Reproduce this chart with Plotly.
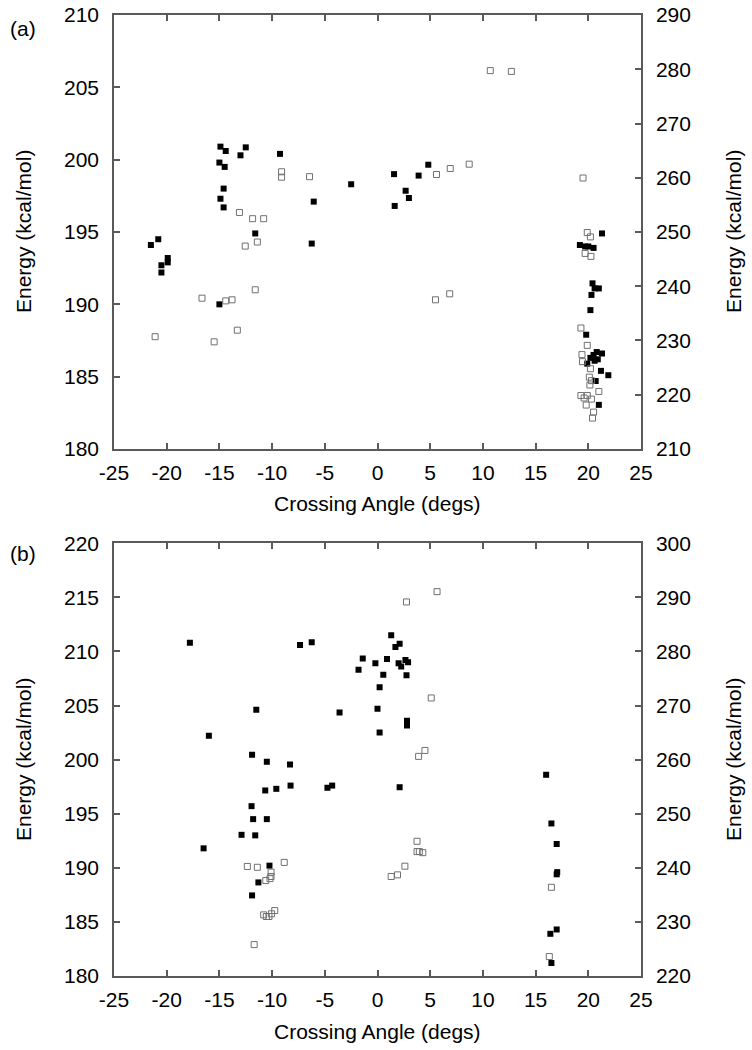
import plotly.graph_objects as go

# panel (a): filled = left axis, open = right axis
a_fill_x = [-21.5, -20.8, -20.5, -19.9, -19.9, -20.5, -15.0,
            -14.9, -14.4, -15.0, -14.5, -14.6, -14.9, -14.6,
            -13.0, -12.5, -9.25, -11.6, -6.05, -6.24, -2.5,
            1.57, 1.63, 2.67, 2.98, 3.9, 4.82,
            21.3, 19.2, 19.7, 20.0, 20.5,
            20.4, 20.6, 21.0, 20.3, 20.2, 19.8,
            20.8, 21.3, 20.5, 20.2, 20.9, 20.6, 19.9, 21.2, 21.9, 20.7, 21.0]
a_fill_y = [194.1, 194.5, 192.7, 193.2, 192.9, 192.2, 190.0,
            200.9, 200.6, 199.8, 199.5, 198.0, 197.3, 196.7,
            200.3, 200.85, 200.4, 194.9, 197.1, 194.2, 198.3,
            199.0, 196.8, 197.85, 197.35, 198.9, 199.65,
            194.9, 194.1, 194.0, 194.0, 193.9,
            191.45, 191.1, 191.1, 190.65, 189.6, 187.9,
            186.7, 186.6, 186.5, 186.3, 186.2, 186.1, 185.9, 185.4, 185.1, 184.7, 183.05]

a_open_x = [-9.1, -9.1, -6.45, -13.1, -11.85, -10.8, -12.55, -11.4,
            -21.1, -16.65, -14.4, -13.8, -11.6, -15.5, -13.3,
            10.7, 12.7, 5.6, 6.9, 8.7, 19.5, 5.5, 6.85,
            19.9, 20.2, 19.7, 20.25,
            19.3, 19.9, 19.4, 19.45, 20.2, 20.1, 20.3, 20.15, 21.0,
            19.3, 19.9, 19.6, 20.3, 19.8, 20.5, 20.4]
a_open_y = [261.1, 260.1, 260.2, 253.6, 252.45, 252.45, 247.4, 248.15,
            230.7, 237.8, 237.3, 237.5, 239.35, 229.75, 231.9,
            279.75, 279.6, 260.6, 261.7, 262.5, 259.95, 237.5, 238.6,
            249.9, 249.1, 246.05, 245.5,
            232.3, 229.1, 227.4, 226.1, 224.8, 223.25, 222.6, 221.8, 220.6,
            219.85, 219.85, 219.4, 219.2, 218.1, 216.8, 215.7]

# panel (b)
b_fill_x = [-17.8, -7.35, -6.24, -11.5, -16.0, -3.6,
            -11.9, -10.5, -8.3,
            -10.65, -9.6, -8.25, -4.75, -4.3,
            -11.95, -11.8, -10.5, -12.9, -11.6, -16.5, -10.25, -11.3, -11.9,
            1.3, 2.1, 1.7, -1.4, 0.9, -0.2, 2.0, 2.25, 2.65, 2.9,
            -1.8, 0.55, 2.75, 0.2, 0.0, 2.8, 2.8, 0.2, 2.1,
            16.0, 16.5, 17.0, 17.05, 17.0, 16.4, 17.0, 16.5]
b_fill_y = [210.8, 210.6, 210.85, 204.6, 202.2, 204.35,
            200.45, 199.8, 199.55,
            197.15, 197.3, 197.6, 197.4, 197.6,
            195.7, 194.5, 194.5, 193.05, 193.0, 191.8, 190.2, 188.65, 187.45,
            211.5, 210.7, 210.4, 209.35, 209.3, 208.9, 208.9, 208.6, 209.2, 209.0,
            208.3, 207.85, 207.8, 206.7, 204.7, 203.6, 203.15, 202.5, 197.45,
            198.6, 194.1, 192.2, 189.6, 189.4, 183.9, 184.3, 181.2]

b_open_x = [5.65, 2.75, 5.1, 3.9, 4.5,
            3.75, 3.75, 3.97, 4.3, 2.6, 1.9, 1.3,
            16.5, 16.3,
            -12.35, -11.4, -8.85, -10.1, -10.1, -10.2, -10.6,
            -9.75, -10.05, -10.8, -10.3, -10.55, -11.7]
b_open_y = [291.05, 289.15, 271.4, 260.6, 261.7,
            244.9, 243.0, 243.0, 242.8, 240.3, 238.7, 238.4,
            236.4, 223.6,
            240.25, 240.1, 241.0, 239.2, 238.4, 238.0, 237.65,
            232.1, 231.5, 231.3, 231.0, 231.0, 225.8]

x_ticks = list(range(-25, 26, 5))
x_ticktext = [str(v) for v in x_ticks]  # plain hyphen minus, as in the original

FONT = "Liberation Sans, Arial, sans-serif"
FS = 21
AXIS = "#5a5a5a"
OPEN = "#707070"
W, H = 752, 1050
ML, MR, MT, MB = 114, 111, 15, 74

fill_marker = dict(symbol="square", size=6, color="black", line=dict(width=0))
open_marker = dict(symbol="square-open", size=6, color=OPEN, line=dict(width=1, color=OPEN))

fig = go.Figure()
fig.add_scatter(x=a_fill_x, y=a_fill_y, mode="markers", marker=fill_marker, xaxis="x", yaxis="y")
fig.add_scatter(x=a_open_x, y=a_open_y, mode="markers", marker=open_marker, xaxis="x", yaxis="y2")
fig.add_scatter(x=b_fill_x, y=b_fill_y, mode="markers", marker=fill_marker, xaxis="x2", yaxis="y3")
fig.add_scatter(x=b_open_x, y=b_open_y, mode="markers", marker=open_marker, xaxis="x2", yaxis="y4")

common = dict(showline=True, linecolor=AXIS, linewidth=1.5, ticks="inside", ticklen=6,
              tickcolor=AXIS, tickwidth=1.5, showgrid=False, zeroline=False, automargin=False,
              tickfont=dict(size=FS, color="black", family=FONT))
xcommon = dict(common, range=[-25, 25], tickvals=x_ticks, ticktext=x_ticktext, mirror="ticks",
               ticklabelstandoff=4)
yleft = dict(common, ticklabelstandoff=9)
yright = dict(common, ticklabelstandoff=9)

dom_a = [0.5484, 1.0]
dom_b = [0.0, 0.4503]

fig.update_layout(
    width=W, height=H,
    margin=dict(l=ML, r=MR, t=MT, b=MB),
    paper_bgcolor="white", plot_bgcolor="white",
    font=dict(family=FONT, size=FS, color="black"),
    showlegend=False,
    xaxis=dict(xcommon, domain=[0, 1], anchor="y"),
    yaxis=dict(yleft, domain=dom_a, anchor="x", range=[180, 210], dtick=5),
    yaxis2=dict(yright, domain=dom_a, anchor="x", overlaying="y", side="right",
                range=[210, 290], dtick=10),
    xaxis2=dict(xcommon, domain=[0, 1], anchor="y3"),
    yaxis3=dict(yleft, domain=dom_b, anchor="x2", range=[180, 220], dtick=5),
    yaxis4=dict(yright, domain=dom_b, anchor="x2", overlaying="y3", side="right",
                range=[220, 300], dtick=10),
)

# text placed in pixel terms, converted to paper coords
pw, ph = W - ML - MR, H - MT - MB


def px2paper(px, py):
    return (px - ML) / pw, (H - MB - py) / ph


texts = [
    ("(a)", 23, 28, 0),
    ("(b)", 23, 553, 0),
    ("Crossing Angle (degs)", 377, 503, 0),
    ("Crossing Angle (degs)", 377, 1031, 0),
    ("Energy (kcal/mol)", 23, 232, -90),
    ("Energy (kcal/mol)", 733, 232, -90),
    ("Energy (kcal/mol)", 23, 760, -90),
    ("Energy (kcal/mol)", 733, 760, -90),
]
for label, px, py, ang in texts:
    x, y = px2paper(px, py)
    fig.add_annotation(text=label, x=x, y=y, xref="paper", yref="paper",
                       xanchor="center", yanchor="middle", textangle=ang,
                       showarrow=False, font=dict(size=FS, family=FONT, color="black"))

# drop the browser's default 8px body margin so the figure sits at the page origin
fig.write_html("out.html", config={"displayModeBar": False},
               post_script="document.body.style.margin='0';")
